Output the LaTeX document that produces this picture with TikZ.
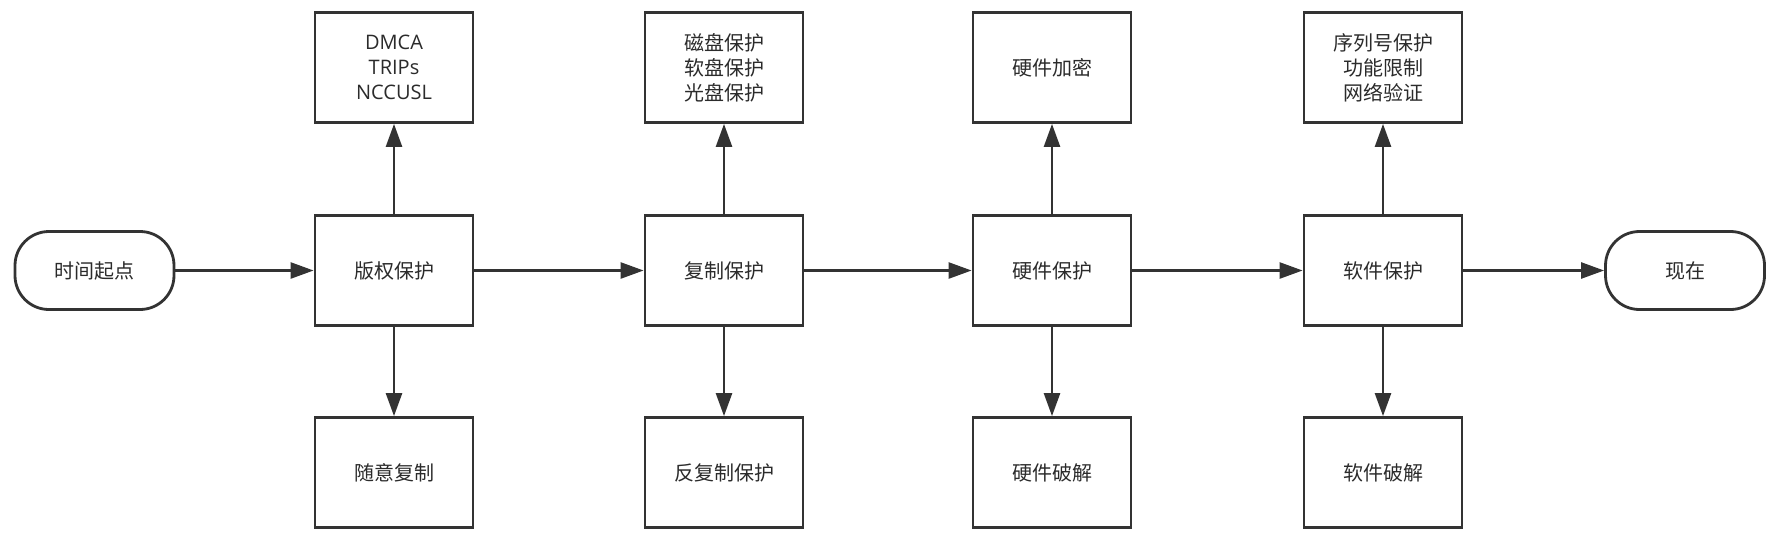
\documentclass[tikz,border=0pt]{standalone}
\usepackage{fontspec}
\setmainfont{Noto Sans CJK SC}
\newfontfamily\latinfont{Open Sans}
\usetikzlibrary{arrows.meta}
\definecolor{ink}{HTML}{333333}
\begin{document}
\begin{tikzpicture}[x=1pt,y=-1pt,
  box/.style={draw=ink,line width=2.8pt,minimum width=158pt,minimum height=110pt,
    inner sep=0pt,align=center,font=\fontsize{20}{25}\selectfont,text=ink!85!black},
  term/.style={box,minimum width=159pt,minimum height=78pt,rounded corners=34pt},
  conn/.style={draw=ink,line width=2.5pt,-{Triangle[length=23pt,width=16pt]}}]
\useasboundingbox (0,0) rectangle (1770,550);
\fill[white] (0,0) rectangle (1770,550);
% start / end
\node[term] (start) at (94.5,270.5) {时间起点};
\node[term] (now) at (1685,270.5) {现在};
% main row
\node[box] (m1) at (394,270.5) {版权保护};
\node[box] (m2) at (724,270.5) {复制保护};
\node[box] (m3) at (1052,270.5) {硬件保护};
\node[box] (m4) at (1383,270.5) {软件保护};
% top row
\node[box] (t1) at (394,67.5) {\latinfont DMCA\\\latinfont TRIPs\\\latinfont NCCUSL};
\node[box] (t2) at (724,67.5) {磁盘保护\\软盘保护\\光盘保护};
\node[box] (t3) at (1052,67.5) {硬件加密};
\node[box] (t4) at (1383,67.5) {序列号保护\\功能限制\\网络验证};
% bottom row
\node[box] (b1) at (394,472.5) {随意复制};
\node[box] (b2) at (724,472.5) {反复制保护};
\node[box] (b3) at (1052,472.5) {硬件破解};
\node[box] (b4) at (1383,472.5) {软件破解};
% connectors
\draw[conn] (start.east) -- (m1.west);
\draw[conn] (m1.east) -- (m2.west);
\draw[conn] (m2.east) -- (m3.west);
\draw[conn] (m3.east) -- (m4.west);
\draw[conn] (m4.east) -- (now.west);
\foreach \i in {1,2,3,4}{
  \draw[conn] (m\i.north) -- (t\i.south);
  \draw[conn] (m\i.south) -- (b\i.north);
}
\end{tikzpicture}
\end{document}
